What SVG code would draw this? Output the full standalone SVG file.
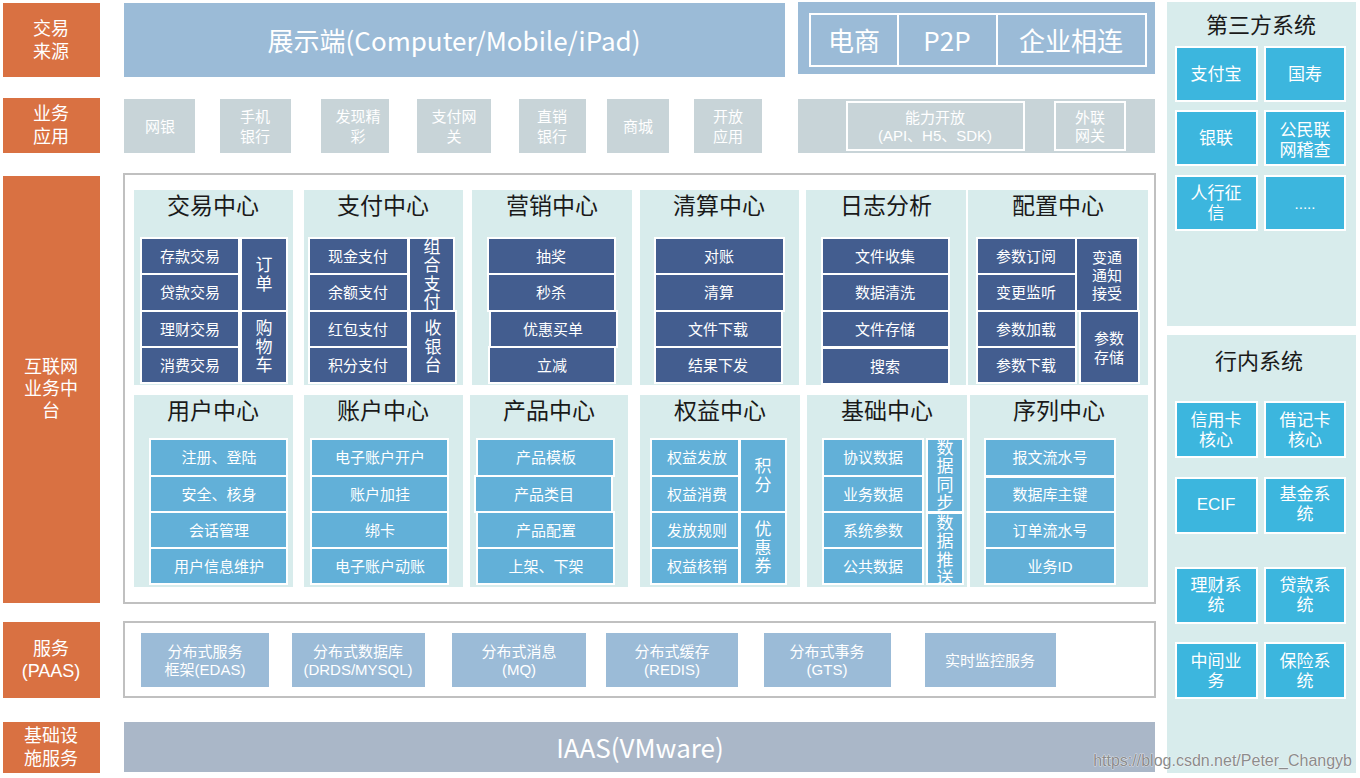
<svg xmlns="http://www.w3.org/2000/svg" width="1360" height="778" viewBox="0 0 1360 778">
<style>
text{font-family:"Liberation Sans","Noto Sans CJK SC",sans-serif;text-anchor:middle;dominant-baseline:central}
.or{fill:#d97142}
.ow{fill:#fff;font-size:18px}
.top{fill:#9bbbd7}
.app{fill:#c8d4d8}
.pn{fill:#d8ecec}
.dk{fill:#435d8f;stroke:#fff;stroke-width:2}
.lb{fill:#62b0d8;stroke:#fff;stroke-width:2}
.cy{fill:#3cb6de;stroke:#fff;stroke-width:2}
.frame{fill:#fff;stroke:#c0c0c0;stroke-width:2}
.inb{fill:none;stroke:#fff;stroke-width:2}
.w{fill:#fff;font-size:15px}
.v{fill:#fff;font-size:17px;writing-mode:vertical-rl;letter-spacing:1.5px;font-family:"Noto Sans CJK SC",sans-serif}
.w18{fill:#fff;font-size:17px}
.big{fill:#fff;font-size:26px;font-family:"Noto Sans CJK SC","Noto Sans",sans-serif}
.ttl{fill:#1a1a1a;font-size:23px;font-family:"Noto Sans CJK SC",sans-serif}
.rt{fill:#1a1a1a;font-size:22px;font-family:"Noto Sans CJK SC",sans-serif}
</style>

<!-- left layer labels -->
<g id="layer-source"><rect class="or" x="3" y="3" width="97" height="74"/><text class="ow"><tspan x="51" y="29">交易</tspan><tspan x="51" y="52">来源</tspan></text></g>
<g id="layer-app"><rect class="or" x="3" y="98" width="97" height="55"/><text class="ow"><tspan x="51" y="114">业务</tspan><tspan x="51" y="137">应用</tspan></text></g>
<g id="layer-middle"><rect class="or" x="3" y="176" width="97" height="427"/><text class="ow"><tspan x="51" y="367">互联网</tspan><tspan x="51" y="389">业务中</tspan><tspan x="51" y="411">台</tspan></text></g>
<g id="layer-paas"><rect class="or" x="3" y="622" width="97" height="76"/><text class="ow"><tspan x="51" y="649">服务</tspan><tspan x="51" y="671">(PAAS)</tspan></text></g>
<g id="layer-iaas"><rect class="or" x="3" y="722" width="97" height="51"/><text class="ow"><tspan x="51" y="736">基础设</tspan><tspan x="51" y="759">施服务</tspan></text></g>

<!-- row 1 -->
<g id="display"><rect class="top" x="124" y="3" width="661" height="74"/><text class="big" x="454" y="39">展示端(Computer/Mobile/iPad)</text></g>
<g id="channels"><rect class="top" x="798" y="2" width="357" height="72"/>
<rect class="inb" x="810" y="14" width="88" height="52"/><rect class="inb" x="898" y="14" width="99" height="52"/><rect class="inb" x="997" y="14" width="149" height="52"/>
<text class="big" x="854" y="39">电商</text><text class="big" x="947" y="39">P2P</text><text class="big" x="1071" y="39">企业相连</text></g>

<!-- row 2 -->
<g id="app-wy"><rect class="app" x="124" y="99" width="71" height="54"/><text class="w" x="160" y="126">网银</text></g>
<g id="app-sj"><rect class="app" x="220" y="99" width="71" height="54"/><text class="w"><tspan x="255" y="116">手机</tspan><tspan x="255" y="136">银行</tspan></text></g>
<g id="app-fx"><rect class="app" x="321" y="99" width="68" height="54"/><text class="w"><tspan x="358" y="116">发现精</tspan><tspan x="358" y="136">彩</tspan></text></g>
<g id="app-zf"><rect class="app" x="417" y="99" width="74" height="54"/><text class="w"><tspan x="454" y="116">支付网</tspan><tspan x="454" y="136">关</tspan></text></g>
<g id="app-zx"><rect class="app" x="519" y="99" width="67" height="54"/><text class="w"><tspan x="552" y="116">直销</tspan><tspan x="552" y="136">银行</tspan></text></g>
<g id="app-sc"><rect class="app" x="607" y="99" width="62" height="54"/><text class="w" x="638" y="126">商城</text></g>
<g id="app-kf"><rect class="app" x="694" y="99" width="68" height="54"/><text class="w"><tspan x="728" y="116">开放</tspan><tspan x="728" y="136">应用</tspan></text></g>
<g id="app-open"><rect class="app" x="798" y="99" width="357" height="54"/>
<rect class="inb" x="847" y="102" width="177" height="48"/><text class="w"><tspan x="935" y="117">能力开放</tspan><tspan x="935" y="135">(API、H5、SDK)</tspan></text>
<rect class="inb" x="1055" y="102" width="70" height="48"/><text class="w"><tspan x="1090" y="117">外联</tspan><tspan x="1090" y="135">网关</tspan></text></g>

<!-- middle platform frame -->
<rect class="frame" x="124" y="174" width="1031" height="429"/>

<!-- row A centers -->
<g id="c-trade"><rect class="pn" x="134" y="190" width="159" height="195"/><text class="ttl" x="213" y="204">交易中心</text>
<rect class="dk" x="141" y="238" width="98" height="36"/><text class="w" x="190" y="256">存款交易</text>
<rect class="dk" x="141" y="274" width="98" height="37"/><text class="w" x="190" y="292">贷款交易</text>
<rect class="dk" x="141" y="311" width="98" height="36"/><text class="w" x="190" y="329">理财交易</text>
<rect class="dk" x="141" y="347" width="98" height="36"/><text class="w" x="190" y="365">消费交易</text>
<rect class="dk" x="241" y="238" width="46" height="73"/><text class="v" x="264" y="275">订单</text>
<rect class="dk" x="241" y="311" width="46" height="72"/><text class="v" x="264" y="347">购物车</text></g>

<g id="c-pay"><rect class="pn" x="304" y="190" width="159" height="195"/><text class="ttl" x="383" y="204">支付中心</text>
<rect class="dk" x="309" y="238" width="99" height="36"/><text class="w" x="358" y="256">现金支付</text>
<rect class="dk" x="309" y="274" width="99" height="37"/><text class="w" x="358" y="292">余额支付</text>
<rect class="dk" x="309" y="311" width="99" height="36"/><text class="w" x="358" y="329">红包支付</text>
<rect class="dk" x="309" y="347" width="99" height="36"/><text class="w" x="358" y="365">积分支付</text>
<rect class="dk" x="409" y="238" width="45" height="73"/><text class="v" x="432" y="275">组合支付</text>
<rect class="dk" x="410" y="311" width="46" height="72"/><text class="v" x="433" y="347">收银台</text></g>

<g id="c-mkt"><rect class="pn" x="472" y="190" width="160" height="195"/><text class="ttl" x="552" y="204">营销中心</text>
<rect class="dk" x="488" y="238" width="127" height="36"/><text class="w" x="551" y="256">抽奖</text>
<rect class="dk" x="488" y="274" width="127" height="37"/><text class="w" x="551" y="292">秒杀</text>
<rect class="dk" x="490" y="311" width="127" height="36"/><text class="w" x="553" y="329">优惠买单</text>
<rect class="dk" x="489" y="347" width="126" height="36"/><text class="w" x="552" y="365">立减</text></g>

<g id="c-clear"><rect class="pn" x="640" y="190" width="159" height="195"/><text class="ttl" x="719" y="204">清算中心</text>
<rect class="dk" x="655" y="238" width="129" height="36"/><text class="w" x="719" y="256">对账</text>
<rect class="dk" x="655" y="274" width="129" height="37"/><text class="w" x="719" y="292">清算</text>
<rect class="dk" x="655" y="311" width="127" height="36"/><text class="w" x="718" y="329">文件下载</text>
<rect class="dk" x="655" y="347" width="127" height="36"/><text class="w" x="718" y="365">结果下发</text></g>

<g id="c-log"><rect class="pn" x="806" y="190" width="160" height="195"/><text class="ttl" x="886" y="204">日志分析</text>
<rect class="dk" x="822" y="238" width="127" height="36"/><text class="w" x="885" y="256">文件收集</text>
<rect class="dk" x="822" y="274" width="127" height="37"/><text class="w" x="885" y="292">数据清洗</text>
<rect class="dk" x="822" y="311" width="127" height="36"/><text class="w" x="885" y="329">文件存储</text>
<rect class="dk" x="822" y="348" width="127" height="36"/><text class="w" x="885" y="366">搜索</text></g>

<g id="c-conf"><rect class="pn" x="968" y="190" width="180" height="195"/><text class="ttl" x="1058" y="204">配置中心</text>
<rect class="dk" x="977" y="238" width="99" height="36"/><text class="w" x="1026" y="256">参数订阅</text>
<rect class="dk" x="977" y="274" width="99" height="37"/><text class="w" x="1026" y="292">变更监听</text>
<rect class="dk" x="977" y="311" width="99" height="36"/><text class="w" x="1026" y="329">参数加载</text>
<rect class="dk" x="977" y="347" width="99" height="36"/><text class="w" x="1026" y="365">参数下载</text>
<rect class="dk" x="1076" y="238" width="62" height="73"/><text class="w"><tspan x="1107" y="257">变通</tspan><tspan x="1107" y="275">通知</tspan><tspan x="1107" y="293">接受</tspan></text>
<rect class="dk" x="1080" y="311" width="59" height="72"/><text class="w"><tspan x="1109" y="338">参数</tspan><tspan x="1109" y="357">存储</tspan></text></g>

<!-- row B centers -->
<g id="c-user"><rect class="pn" x="134" y="395" width="159" height="192"/><text class="ttl" x="213" y="409">用户中心</text>
<rect class="lb" x="150" y="439" width="137" height="37"/><text class="w" x="219" y="457">注册、登陆</text>
<rect class="lb" x="150" y="476" width="137" height="36"/><text class="w" x="219" y="494">安全、核身</text>
<rect class="lb" x="150" y="512" width="137" height="36"/><text class="w" x="219" y="530">会话管理</text>
<rect class="lb" x="150" y="548" width="137" height="36"/><text class="w" x="219" y="566">用户信息维护</text></g>

<g id="c-acct"><rect class="pn" x="304" y="395" width="159" height="192"/><text class="ttl" x="383" y="409">账户中心</text>
<rect class="lb" x="311" y="439" width="137" height="37"/><text class="w" x="380" y="457">电子账户开户</text>
<rect class="lb" x="311" y="476" width="137" height="36"/><text class="w" x="380" y="494">账户加挂</text>
<rect class="lb" x="311" y="512" width="137" height="36"/><text class="w" x="380" y="530">绑卡</text>
<rect class="lb" x="311" y="548" width="137" height="36"/><text class="w" x="380" y="566">电子账户动账</text></g>

<g id="c-prod"><rect class="pn" x="470" y="395" width="158" height="192"/><text class="ttl" x="549" y="409">产品中心</text>
<rect class="lb" x="477" y="439" width="137" height="37"/><text class="w" x="546" y="457">产品模板</text>
<rect class="lb" x="475" y="476" width="137" height="36"/><text class="w" x="544" y="494">产品类目</text>
<rect class="lb" x="477" y="512" width="137" height="36"/><text class="w" x="546" y="530">产品配置</text>
<rect class="lb" x="477" y="548" width="137" height="36"/><text class="w" x="546" y="566">上架、下架</text></g>

<g id="c-equity"><rect class="pn" x="640" y="395" width="160" height="192"/><text class="ttl" x="720" y="409">权益中心</text>
<rect class="lb" x="651" y="439" width="88" height="37"/><text class="w" x="697" y="457">权益发放</text>
<rect class="lb" x="651" y="476" width="88" height="36"/><text class="w" x="697" y="494">权益消费</text>
<rect class="lb" x="651" y="512" width="88" height="36"/><text class="w" x="697" y="530">发放规则</text>
<rect class="lb" x="651" y="548" width="88" height="36"/><text class="w" x="697" y="566">权益核销</text>
<rect class="lb" x="740" y="439" width="46" height="73"/><text class="v" x="763" y="476">积分</text>
<rect class="lb" x="740" y="512" width="46" height="72"/><text class="v" x="763" y="548">优惠券</text></g>

<g id="c-base"><rect class="pn" x="807" y="395" width="160" height="192"/><text class="ttl" x="887" y="409">基础中心</text>
<rect class="lb" x="823" y="439" width="100" height="37"/><text class="w" x="873" y="457">协议数据</text>
<rect class="lb" x="823" y="476" width="100" height="36"/><text class="w" x="873" y="494">业务数据</text>
<rect class="lb" x="823" y="512" width="100" height="36"/><text class="w" x="873" y="530">系统参数</text>
<rect class="lb" x="823" y="548" width="100" height="36"/><text class="w" x="873" y="566">公共数据</text>
<rect class="lb" x="927" y="439" width="36" height="73"/><text class="v" x="945" y="476">数据同步</text>
<rect class="lb" x="927" y="513" width="36" height="71"/><text class="v" x="945" y="551">数据推送</text></g>

<g id="c-seq"><rect class="pn" x="970" y="395" width="178" height="192"/><text class="ttl" x="1059" y="409">序列中心</text>
<rect class="lb" x="985" y="439" width="130" height="37"/><text class="w" x="1050" y="457">报文流水号</text>
<rect class="lb" x="985" y="477" width="130" height="35"/><text class="w" x="1050" y="494">数据库主键</text>
<rect class="lb" x="985" y="512" width="130" height="36"/><text class="w" x="1050" y="530">订单流水号</text>
<rect class="lb" x="985" y="548" width="130" height="36"/><text class="w" x="1050" y="566">业务ID</text></g>

<!-- PAAS -->
<g id="paas"><rect class="frame" x="124" y="622" width="1031" height="75"/>
<rect class="top" x="141" y="633" width="128" height="54"/><text class="w"><tspan x="205" y="651">分布式服务</tspan><tspan x="205" y="669">框架(EDAS)</tspan></text>
<rect class="top" x="292" y="633" width="133" height="54"/><text class="w"><tspan x="358" y="651">分布式数据库</tspan><tspan x="358" y="669">(DRDS/MYSQL)</tspan></text>
<rect class="top" x="452" y="633" width="134" height="54"/><text class="w"><tspan x="519" y="651">分布式消息</tspan><tspan x="519" y="669">(MQ)</tspan></text>
<rect class="top" x="606" y="633" width="132" height="54"/><text class="w"><tspan x="672" y="651">分布式缓存</tspan><tspan x="672" y="669">(REDIS)</tspan></text>
<rect class="top" x="764" y="633" width="127" height="54"/><text class="w"><tspan x="827" y="651">分布式事务</tspan><tspan x="827" y="669">(GTS)</tspan></text>
<rect class="top" x="925" y="633" width="131" height="54"/><text class="w" x="990" y="660">实时监控服务</text></g>

<!-- IAAS -->
<g id="iaas"><rect fill="#aab7c8" x="124" y="722" width="1031" height="50"/><text class="big" font-size="27" x="640" y="746">IAAS(VMware)</text></g>

<!-- third-party systems -->
<g id="third-party"><rect class="pn" x="1167" y="2" width="189" height="324"/><text class="rt" x="1261" y="23">第三方系统</text>
<rect class="cy" x="1176" y="47" width="81" height="54"/><text class="w18" x="1216" y="74">支付宝</text>
<rect class="cy" x="1265" y="47" width="80" height="54"/><text class="w18" x="1305" y="74">国寿</text>
<rect class="cy" x="1176" y="111" width="81" height="54"/><text class="w18" x="1216" y="138">银联</text>
<rect class="cy" x="1265" y="111" width="80" height="54"/><text class="w18"><tspan x="1305" y="130">公民联</tspan><tspan x="1305" y="150">网稽查</tspan></text>
<rect class="cy" x="1176" y="176" width="81" height="54"/><text class="w18"><tspan x="1216" y="193">人行征</tspan><tspan x="1216" y="213">信</tspan></text>
<rect class="cy" x="1265" y="176" width="80" height="54"/><text class="w" x="1305" y="203">.....</text></g>

<!-- in-bank systems -->
<g id="in-bank"><rect class="pn" x="1167" y="335" width="189" height="438"/><text class="rt" x="1259" y="359">行内系统</text>
<rect class="cy" x="1176" y="402" width="81" height="55"/><text class="w18"><tspan x="1216" y="420">信用卡</tspan><tspan x="1216" y="440">核心</tspan></text>
<rect class="cy" x="1265" y="402" width="80" height="55"/><text class="w18"><tspan x="1305" y="420">借记卡</tspan><tspan x="1305" y="440">核心</tspan></text>
<rect class="cy" x="1176" y="478" width="81" height="55"/><text class="w18" x="1216" y="504">ECIF</text>
<rect class="cy" x="1265" y="478" width="80" height="55"/><text class="w18"><tspan x="1305" y="494">基金系</tspan><tspan x="1305" y="514">统</tspan></text>
<rect class="cy" x="1176" y="568" width="81" height="55"/><text class="w18"><tspan x="1216" y="585">理财系</tspan><tspan x="1216" y="605">统</tspan></text>
<rect class="cy" x="1265" y="568" width="80" height="55"/><text class="w18"><tspan x="1305" y="585">贷款系</tspan><tspan x="1305" y="605">统</tspan></text>
<rect class="cy" x="1176" y="643" width="81" height="55"/><text class="w18"><tspan x="1216" y="661">中间业</tspan><tspan x="1216" y="681">务</tspan></text>
<rect class="cy" x="1265" y="643" width="80" height="55"/><text class="w18"><tspan x="1305" y="661">保险系</tspan><tspan x="1305" y="681">统</tspan></text></g>

<g id="connectors"></g>

<text x="1352" y="760" style="text-anchor:end;font-family:'Liberation Sans',sans-serif;font-size:16px;fill:#8c8c8c;stroke:#fff;stroke-width:0.6;paint-order:stroke">https://blog.csdn.net/Peter_Changyb</text>
</svg>
